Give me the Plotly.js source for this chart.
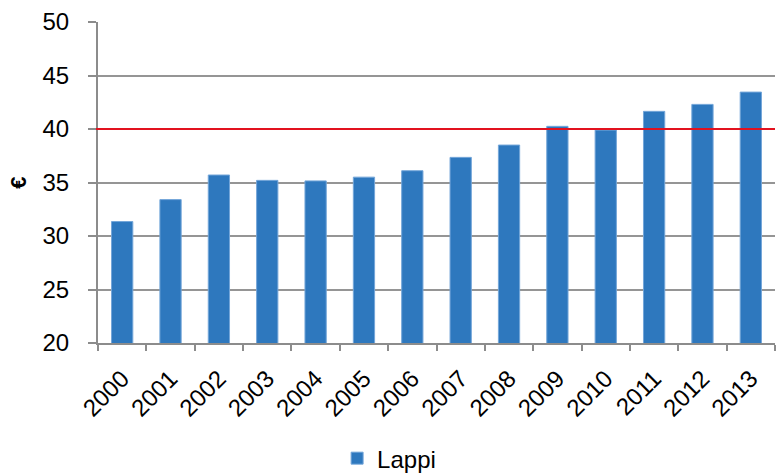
<!DOCTYPE html>
<html>
<head>
<meta charset="utf-8">
<script src="https://cdn.plot.ly/plotly-3.0.1.min.js"></script>
<style>html,body{margin:0;padding:0;background:#fff;}#chart{width:776px;height:476px;}</style>
</head>
<body>
<div id="chart"></div>
<script>
const years = ['2000','2001','2002','2003','2004','2005','2006','2007','2008','2009','2010','2011','2012','2013'];
const lappi = [31.35, 33.4, 35.7, 35.2, 35.15, 35.5, 36.1, 37.35, 38.5, 40.25, 39.9, 41.65, 42.3, 43.45];
const seriesName = 'Lappi';
const refLevel = 40;
const yTickVals = [20, 25, 30, 35, 40, 45, 50];

const trace = {
  type: 'bar',
  x: years,
  y: lappi,
  name: seriesName,
  marker: {color: '#2e78be', line: {color: '#74a6d9', width: 1}},
  showlegend: true
};

const layout = {
  width: 776, height: 476,
  margin: {l: 98, r: 1, t: 22, b: 132.5, autoexpand: false},
  paper_bgcolor: '#fff', plot_bgcolor: '#fff',
  font: {family: 'Liberation Sans, Arial, sans-serif', size: 24, color: '#000'},
  bargap: 0.56,
  showlegend: true,
  xaxis: {
    type: 'category',
    automargin: false,
    tickangle: -45,
    tickson: 'boundaries',
    ticks: 'outside', ticklen: 6, tickwidth: 2, tickcolor: '#8c8c8c',
    showline: true, linecolor: '#8c8c8c', linewidth: 2,
    showgrid: false,
    ticklabelstandoff: 10,
    tickfont: {size: 24}
  },
  yaxis: {
    range: [20, 50],
    automargin: false,
    tickvals: yTickVals,
    ticks: 'outside', ticklen: 8, tickwidth: 2, tickcolor: '#8c8c8c',
    showline: true, linecolor: '#8c8c8c', linewidth: 2,
    showgrid: true, gridcolor: '#959595', gridwidth: 2,
    zeroline: false,
    ticklabelstandoff: 14,
    tickfont: {size: 24},
    title: {text: '€', font: {size: 22, family: 'Liberation Sans, Arial, sans-serif', weight: 'bold'}, standoff: 10}
  },
  legend: {
    orientation: 'h', x: 0.43, xanchor: 'center', y: -0.36, yanchor: 'middle',
    font: {size: 24}, itemwidth: 30
  },
  shapes: [{
    type: 'line', xref: 'paper', yref: 'y', x0: -0.003, x1: 1, y0: refLevel, y1: refLevel,
    line: {color: '#e2121f', width: 2}, layer: 'above'
  }]
};

Plotly.newPlot('chart', [trace], layout, {displayModeBar: false, staticPlot: true});
</script>
</body>
</html>
